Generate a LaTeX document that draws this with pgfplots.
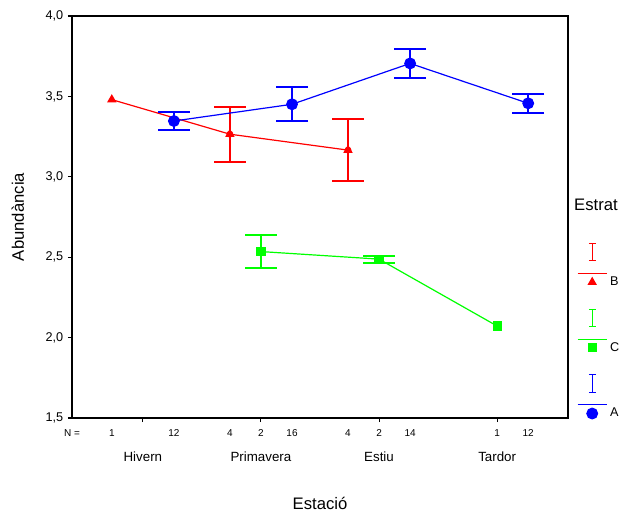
\documentclass[border=0pt]{standalone}
\usepackage{fontspec}
\setmainfont{Liberation Sans}
\usepackage{pgfplots}
\pgfplotsset{compat=1.18}
\definecolor{cR}{RGB}{255,0,0}
\definecolor{cG}{RGB}{0,255,0}
\definecolor{cB}{RGB}{0,0,255}
\begin{document}
\begin{tikzpicture}
\path[use as bounding box] (-54pt,-69.75pt) rectangle (418.5pt,313.5pt);
\begin{axis}[
  scale only axis, width=372pt, height=301.5pt,
  at={(0,0)}, anchor=south west,
  clip=false,
  xmin=-0.6, xmax=3.6, ymin=1.5, ymax=4.0,
  axis line style={line width=1.1pt},
  tick align=outside, xtick pos=lower, ytick pos=left,
  major tick length=3pt,
  tick style={black, line width=0.8pt},
  /pgf/number format/assume math mode=true,
  ytick={1.5,2,2.5,3,3.5,4},
  yticklabel style={font=\fontsize{9.5}{11}\selectfont, /pgf/number format/.cd, use comma, fixed, fixed zerofill, precision=1},
  xtick={0,1,2,3},
  xticklabels={Hivern,Primavera,Estiu,Tardor},
  xticklabel style={font=\fontsize{10}{12}\selectfont, yshift=-19pt},
  extra x ticks={-0.6,-0.263,0.263,0.737,1,1.263,1.737,2,2.263,3,3.263},
  extra x tick labels={N =,1,12,4,2,16,4,2,14,1,12},
  extra x tick style={major tick length=0pt, xticklabel style={font=\fontsize{7.5}{9}\selectfont, yshift=14pt}},
  xlabel={Estació}, ylabel={Abundància},
  xlabel style={at={(axis description cs:0.5,-0.2114)}, anchor=center, font=\fontsize{12.5}{15}\selectfont},
  ylabel style={at={(axis description cs:-0.109,0.5)}, anchor=center, font=\fontsize{12.5}{15}\selectfont},
  legend style={draw=none, fill=none, at={(1,0.4428)}, anchor=north west, xshift=3.5pt, row sep=13.75pt, font=\fontsize{9.5}{11}\selectfont, legend cell align=left},
  legend image code/.code={
    \draw[#1,mark=none] (0pt,6.5pt) -- (22pt,6.5pt);
    \draw[#1,mark=none] (11pt,16pt) -- (11pt,29pt) (8.5pt,16pt) -- (13.5pt,16pt) (8.5pt,29pt) -- (13.5pt,29pt);
    \draw[#1] plot coordinates {(11pt,0pt)};
  },
  errbar/.style={forget plot, #1, line width=1.1pt, only marks, mark=none, error bars/.cd, y dir=both, y explicit, error mark=none, error bar style={line width=1.1pt, #1}},
  caps/.style={forget plot, #1, only marks, mark=-, mark size=12pt, mark options={line width=1.5pt, draw=#1, solid}},
]
% B
\addplot[cR, line width=0.9pt, mark=triangle*, mark size=3.2pt, mark options={solid}] coordinates {(-0.263,3.48) (0.737,3.265) (1.737,3.166)};
\addlegendentry{B}
\addplot[errbar=cR] coordinates {(0.737,3.265) +- (0,0.171) (1.737,3.166) +- (0,0.192)};
\addplot[caps=cR] coordinates {(0.737,3.436) (0.737,3.094) (1.737,3.358) (1.737,2.974)};
% C
\addplot[cG, line width=0.9pt, mark=square*, mark size=3pt, mark options={solid}] coordinates {(1,2.535) (2,2.488) (3,2.072)};
\addlegendentry{C}
\addplot[errbar=cG] coordinates {(1,2.535) +- (0,0.105) (2,2.488) +- (0,0.022)};
\addplot[caps=cG] coordinates {(1,2.640) (1,2.430) (2,2.510) (2,2.466)};
% A
\addplot[cB, line width=0.9pt, mark=*, mark size=4pt, mark options={solid}] coordinates {(0.263,3.347) (1.263,3.451) (2.263,3.705) (3.263,3.457)};
\addlegendentry{A}
\addplot[errbar=cB] coordinates {(0.263,3.347) +- (0,0.053) (1.263,3.451) +- (0,0.105) (2.263,3.705) +- (0,0.089) (3.263,3.457) +- (0,0.058)};
\addplot[caps=cB] coordinates {(0.263,3.400) (0.263,3.294) (1.263,3.556) (1.263,3.346) (2.263,3.794) (2.263,3.616) (3.263,3.515) (3.263,3.399)};
\node[anchor=west, font=\fontsize{12.5}{15}\selectfont, inner sep=0pt] at (axis description cs:1.012,0.53) {Estrat};
\end{axis}
\end{tikzpicture}
\end{document}
